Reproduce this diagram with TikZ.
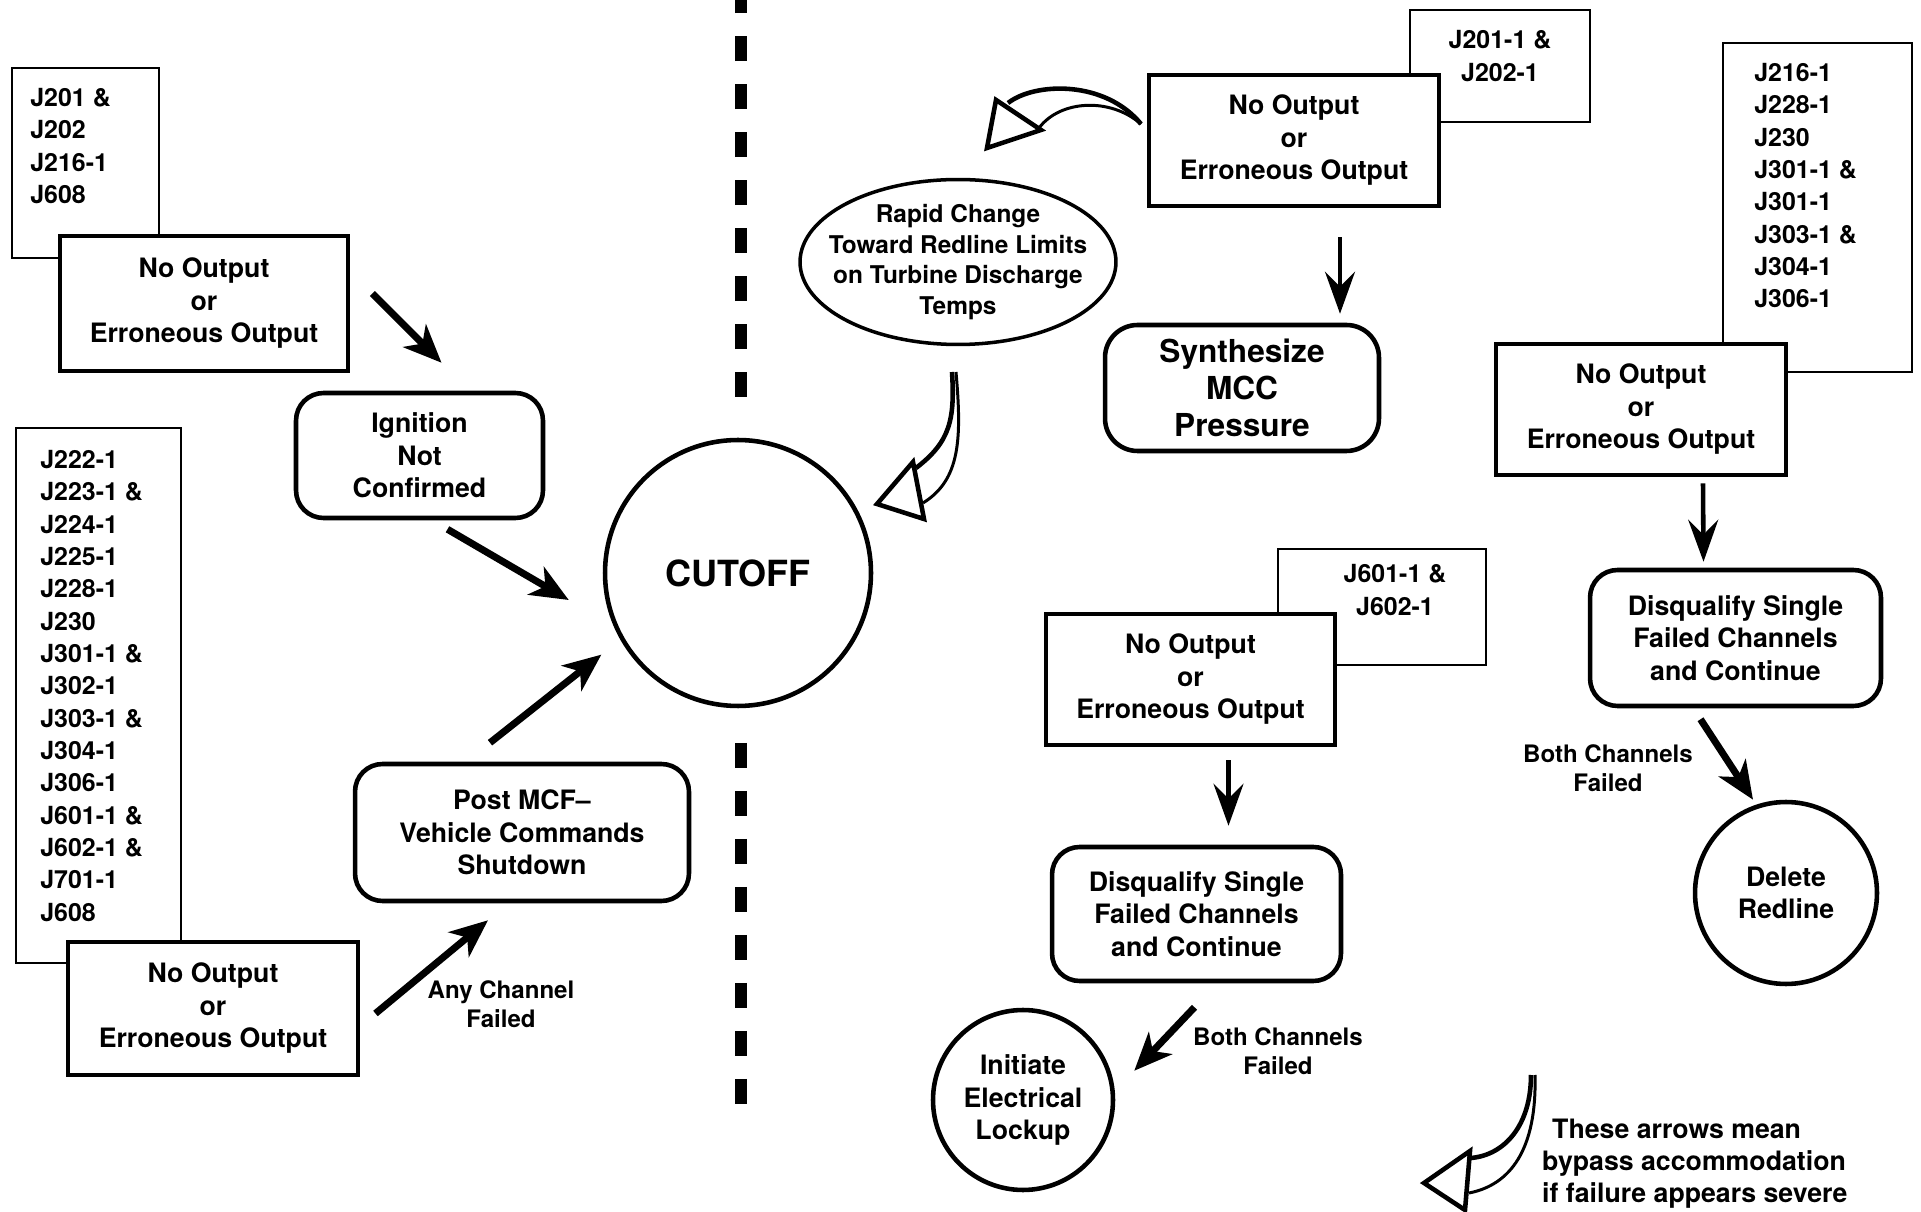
\documentclass[tikz,border=0pt]{standalone}
\usepackage{fontspec}
\setmainfont{TeX Gyre Heros}
\usetikzlibrary{arrows.meta,shapes.geometric}

\begin{document}
\begin{tikzpicture}[x=0.02cm,y=-0.02cm,
    txt/.style={font=\fontsize{15.2}{18.5}\selectfont\bfseries, align=center},
    outbox/.style={draw, line width=2.8pt, fill=white, inner sep=0pt, txt},
    listbox/.style={draw, line width=1.6pt, fill=white, inner sep=0pt},
    listtxt/.style={inner sep=0pt, font=\fontsize{14.2}{18.4}\selectfont\bfseries},
    stepbox/.style={draw, line width=2.6pt, rounded corners=0.55cm, fill=white, inner sep=0pt, txt},
    endnode/.style={draw, circle, line width=2.6pt, inner sep=0pt, txt},
    flow/.style={-{Stealth[length=0.76cm,width=0.64cm,inset=0.22cm]}, line width=4pt},
    vflow/.style={-{Stealth[length=0.84cm,width=0.6cm,inset=0.3cm]}, line width=2.6pt},
    note/.style={font=\fontsize{13.7}{16.8}\selectfont\bfseries, align=center, inner sep=0pt},
    bypass/.style={line width=2.6pt, line join=miter},
    divider/.style={line width=6.5pt, dash pattern=on 0.5cm off 0.46cm}]

  \path[use as bounding box, fill=white] (0,0) rectangle (1921,1212);

  % draw the divider
  \draw[divider] (741,397) -- (741,0);
  \draw[divider] (741,743) -- (741,1104);

  % draw the lists behind the output boxes
  \foreach \nm/\xa/\ya/\xb/\yb in {listA/12/68/159/258, listB/16/428/181/963,
      listC/1410/10/1590/122, listD/1723/43/1912/372, listE/1278/549/1486/665}
  {
    \pgfmathsetmacro\cx{(\xa+\xb)/2}
    \pgfmathsetmacro\cy{(\ya+\yb)/2}
    \node[listbox, minimum width={(\xb-\xa)*0.02cm}, minimum height={(\yb-\ya)*0.02cm}] (\nm) at (\cx,\cy) {};
  }
  \node[listtxt, anchor=north west, align=left] (listAtxt) at (30,88) {J201 \&\\J202\\J216-1\\J608};
  \node[listtxt, anchor=north west, align=left] (listBtxt) at (40,450)
    {J222-1\\J223-1 \&\\J224-1\\J225-1\\J228-1\\J230\\J301-1 \&\\J302-1\\J303-1 \&\\J304-1\\J306-1\\J601-1 \&\\J602-1 \&\\J701-1\\J608};
  \node[listtxt, align=center] (listCtxt) at (1500,56) {J201-1 \&\\J202-1};
  \node[listtxt, anchor=north west, align=left] (listDtxt) at (1754,63)
    {J216-1\\J228-1\\J230\\J301-1 \&\\J301-1\\J303-1 \&\\J304-1\\J306-1};
  \node[listtxt, align=center] (listEtxt) at (1395,590) {J601-1 \&\\J602-1};

  % draw the output boxes
  \foreach \nm/\xa/\ya/\xb/\yb in {no1/60/236/348/371, no2/1149/75/1439/206,
      no3/68/942/358/1075, no4/1496/344/1786/475, no5/1046/614/1335/745}
  {
    \pgfmathsetmacro\cx{(\xa+\xb)/2}
    \pgfmathsetmacro\cy{(\ya+\yb)/2}
    \node[outbox, minimum width={(\xb-\xa)*0.02cm}, minimum height={(\yb-\ya)*0.02cm}] (\nm) at (\cx,\cy)
      {No Output\\or\\Erroneous Output};
  }

  % draw the actions
  \node[stepbox, minimum width=4.94cm, minimum height=2.5cm] (ign) at (419.5,455.5) {Ignition\\Not\\Confirmed};
  \node[stepbox, minimum width=6.68cm, minimum height=2.74cm] (post) at (522,832.5) {Post MCF--\\Vehicle Commands\\Shutdown};
  \node[stepbox, rounded corners=0.65cm, font=\fontsize{18}{21}\selectfont\bfseries,
    minimum width=5.48cm, minimum height=2.52cm] (synth) at (1242,388) {Synthesize\\MCC\\Pressure};
  \node[stepbox, minimum width=5.82cm, minimum height=2.72cm] (disqR) at (1735.5,638)
    {Disqualify Single\\Failed Channels\\and Continue};
  \node[stepbox, minimum width=5.78cm, minimum height=2.68cm] (disqL) at (1196.5,914)
    {Disqualify Single\\Failed Channels\\and Continue};
  \node[draw, ellipse, line width=2pt, inner xsep=-0.45cm, inner ysep=0pt, minimum width=6.32cm, minimum height=3.3cm,
    align=center, font=\fontsize{13.9}{17.4}\selectfont\bfseries] (rapid) at (958,262)
    {Rapid Change\\Toward Redline Limits\\on Turbine Discharge\\Temps};

  % draw the end states
  \node[endnode, minimum size=5.32cm, font=\fontsize{20.5}{24}\selectfont\bfseries] (cut) at (738,573) {CUTOFF};
  \node[endnode, minimum size=3.6cm] (init) at (1023,1100) {Initiate\\Electrical\\Lockup};
  \node[endnode, minimum size=3.64cm] (del) at (1786,893) {Delete\\Redline};

  % draw the arrows
  \draw[flow] ([shift={(22,-10)}]no1.east) -- ([shift={(22,-28)}]ign.north);
  \draw[flow] ([shift={(28,9)}]ign.south) -- ([shift={(-34,27)}]cut.west);
  \draw[flow] ([shift={(15,5)}]no3.east) -- ([shift={(-34,17)}]post.south);
  \draw[flow] ([shift={(-32,-19)}]post.north) -- ([shift={(-41,-14)}]cut.south west);
  \draw[vflow] ([shift={(46,29)}]no2.south) -- ([shift={(98,-9)}]synth.north);
  \draw[vflow] ([shift={(62,6)}]no4.south) -- ([shift={(-32,-6)}]disqR.north);
  \draw[flow] ([shift={(-35,11)}]disqR.south) -- ([shift={(-33,0)}]del.north);
  \draw[vflow] ([shift={(38,13)}]no5.south) -- ([shift={(32,-19)}]disqL.north);
  \draw[flow] ([shift={(-2,24)}]disqL.south) -- ([shift={(46,36)}]init.north east);

  % label the arrows
  \node[note] (anych) at (501,1004) {Any Channel\\Failed};
  \node[note] (bothR) at (1608,768) {Both Channels\\Failed};
  \node[note] (bothL) at (1278,1051) {Both Channels\\Failed};

  % draw the bypass arrows
  \draw[bypass] (1008,103) .. controls (1035,82) and (1105,80) .. (1141,124);
  \draw[bypass, line width=1.7pt] (1039,128) .. controls (1060,100) and (1110,97) .. (1141,124);
  \draw[bypass] (996,100) -- (1041,130) -- (987,148) -- cycle;

  \draw[bypass] (952,372) .. controls (955,420) and (950,442) .. (916,468);
  \draw[bypass, line width=1.7pt] (956,372) .. controls (962,440) and (960,480) .. (923,503);
  \draw[bypass] (913,462) -- (924,519) -- (877,504) -- cycle;

  \draw[bypass] (1531,1075) .. controls (1531,1125) and (1505,1155) .. (1471,1158);
  \draw[bypass, line width=1.7pt] (1535,1075) .. controls (1537,1150) and (1510,1185) .. (1469,1193);
  \draw[bypass] (1470,1151) -- (1465,1210) -- (1424,1183) -- cycle;
  \node[txt, align=left, anchor=west, font=\fontsize{15.2}{18.2}\selectfont\bfseries] (legend) at (1536,1164)
    {\hspace*{0.2cm}These arrows mean\\bypass accommodation\\if failure appears severe};

\end{tikzpicture}
\end{document}
